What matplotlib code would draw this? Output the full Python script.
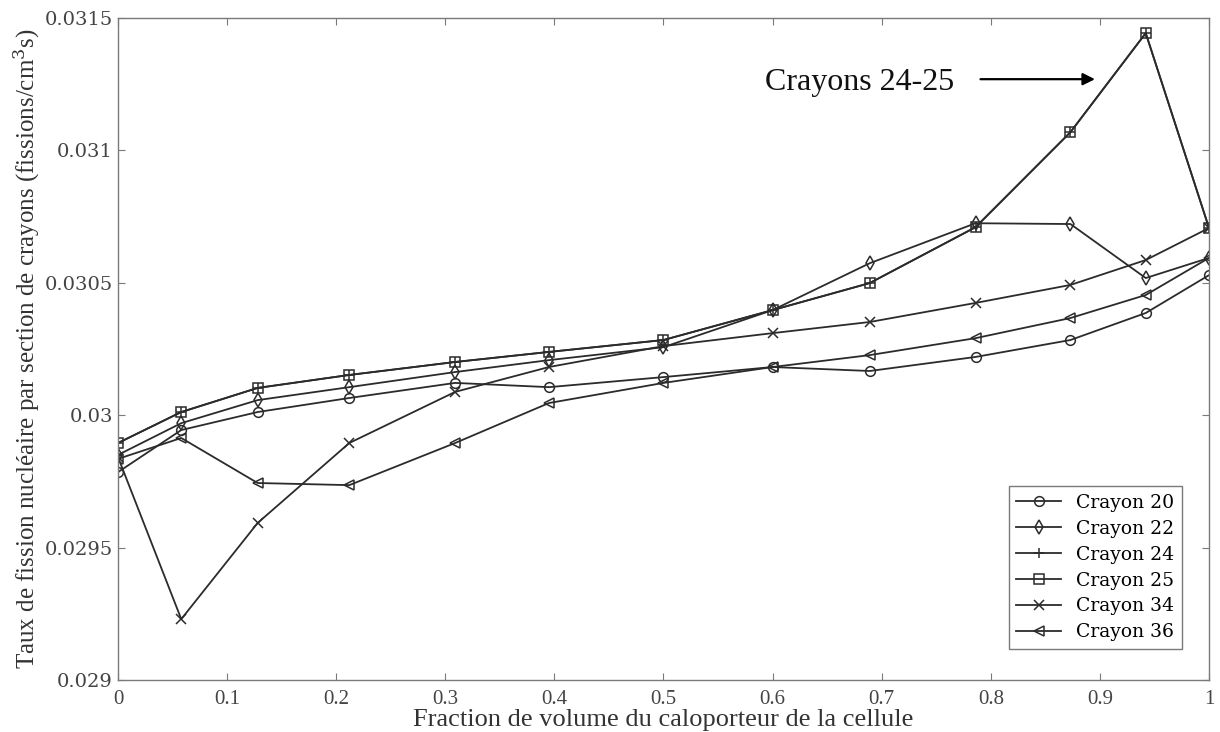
import numpy as np
import matplotlib

matplotlib.use("Agg")
import matplotlib.pyplot as plt

plt.rcParams.update(
    {
        "font.family": "serif",
        "font.serif": ["DejaVu Serif", "Liberation Serif"],
        "mathtext.fontset": "dejavuserif",
    }
)

INK = "#2b2b2b"
FRAME = "#7a7a7a"

# coolant volume fraction (x) and fission rates per rod
fraction = [0.0, 0.058, 0.128, 0.212, 0.309, 0.395, 0.5, 0.6, 0.689, 0.786, 0.873, 0.942, 1.0]
crayon_20 = [0.029785, 0.029944, 0.030012, 0.030065, 0.030122, 0.030106, 0.030144,
             0.030182, 0.030167, 0.030220, 0.030284, 0.030386, 0.030529]
crayon_22 = [0.029850, 0.029970, 0.030057, 0.030106, 0.030163, 0.030208, 0.030257,
             0.030397, 0.030574, 0.030725, 0.030722, 0.030518, 0.030594]
crayon_24 = [0.029895, 0.030012, 0.030103, 0.030152, 0.030201, 0.030239, 0.030284,
             0.030397, 0.030499, 0.030710, 0.031069, 0.031443, 0.030707]
crayon_25 = [0.029895, 0.030012, 0.030103, 0.030152, 0.030201, 0.030239, 0.030284,
             0.030397, 0.030499, 0.030710, 0.031069, 0.031443, 0.030707]
crayon_34 = [0.029842, 0.029230, 0.029593, 0.029895, 0.030088, 0.030182, 0.030261,
             0.030310, 0.030352, 0.030424, 0.030492, 0.030586, 0.030707]
crayon_36 = [0.029835, 0.029914, 0.029744, 0.029736, 0.029895, 0.030046, 0.030122,
             0.030182, 0.030227, 0.030291, 0.030367, 0.030454, 0.030594]

series = [
    ("Crayon 20", crayon_20, "o"),
    ("Crayon 22", crayon_22, "d"),
    ("Crayon 24", crayon_24, "+"),
    ("Crayon 25", crayon_25, "s"),
    ("Crayon 34", crayon_34, "x"),
    ("Crayon 36", crayon_36, "<"),
]

xticks = [0, 0.1, 0.2, 0.3, 0.4, 0.5, 0.6, 0.7, 0.8, 0.9, 1]
xticklabels = ["0", "0.1", "0.2", "0.3", "0.4", "0.5", "0.6", "0.7", "0.8", "0.9", "1"]
yticks = [0.029, 0.0295, 0.030, 0.0305, 0.031, 0.0315]
yticklabels = ["0.029", "0.0295", "0.03", "0.0305", "0.031", "0.0315"]

fig = plt.figure(figsize=(12.2, 7.32), dpi=100)
ax = fig.add_axes([0.0967, 0.071, 0.8943, 0.9044])

for label, vals, mk in series:
    ax.plot(
        fraction,
        vals,
        label=label,
        color=INK,
        linewidth=1.3,
        marker=mk,
        markersize=7,
        markerfacecolor="none",
        markeredgecolor=INK,
        markeredgewidth=1.1,
    )

ax.set_xlim(0, 1)
ax.set_ylim(0.029, 0.0315)
ax.set_xticks(xticks)
ax.set_xticklabels(xticklabels, family="Liberation Serif", fontsize=15)
ax.set_yticks(yticks)
ax.set_yticklabels(yticklabels, fontsize=14)
ax.tick_params(direction="in", top=True, right=True, length=5, width=0.8, colors=FRAME,
               labelcolor="#444444")
ax.tick_params(axis="x", pad=7)
for side in ax.spines.values():
    side.set_color(FRAME)
    side.set_linewidth(1.0)

ax.set_xlabel("Fraction de volume du caloporteur de la cellule",
              family="Liberation Serif", fontsize=19, color="#333333", labelpad=0)
ax.set_ylabel("Taux de fission nucléaire par section de crayons (fissions/cm$^3$s)",
              family="Liberation Serif", fontsize=18, color="#333333", labelpad=2)

ax.annotate(
    "",
    xy=(0.898, 0.031269),
    xytext=(0.788, 0.031269),
    arrowprops=dict(arrowstyle="-|>", color="black", lw=1.6, mutation_scale=18),
)
ax.text(0.593, 0.031255, "Crayons 24-25", family="Liberation Serif", fontsize=23,
        color="#111111", ha="left", va="center")

ax.legend(
    loc="lower right",
    bbox_to_anchor=(0.9835, 0.033),
    fontsize=13.5,
    frameon=True,
    fancybox=False,
    edgecolor=FRAME,
    framealpha=1.0,
    handlelength=2.4,
    labelspacing=0.42,
    borderpad=0.4,
)

fig.savefig("out.png", dpi=100)
